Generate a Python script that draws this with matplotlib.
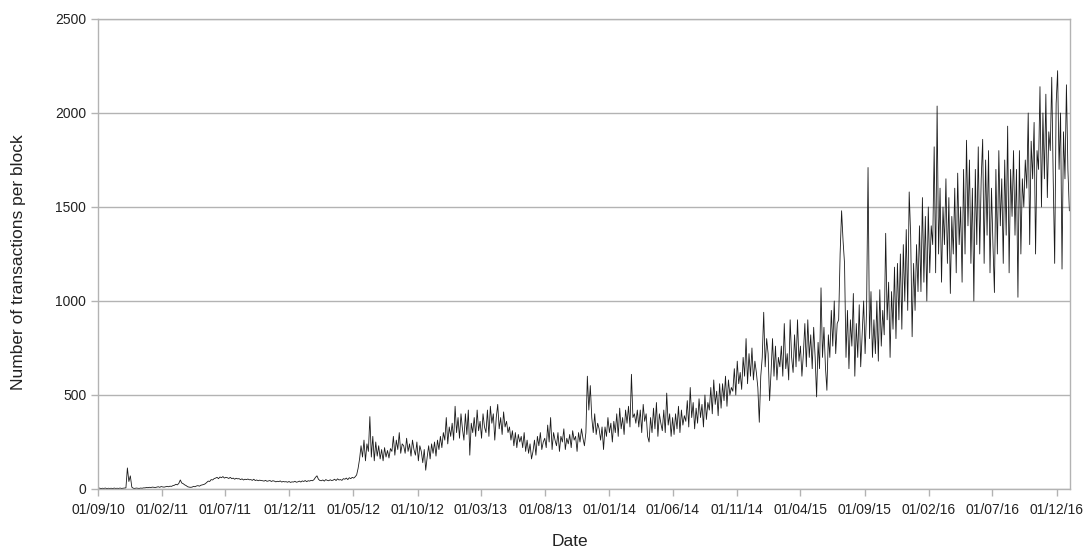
import matplotlib
matplotlib.use('Agg')
import matplotlib.pyplot as plt
import matplotlib.dates as mdates
import numpy as np
import pandas as pd

# transactions per block, one value every 3.5 days from 01/09/2010
# (each row = 28 days)
rows = [
    [3, 5, 2, 4, 3, 5, 2, 4],
    [3, 4, 2, 5, 3, 4, 3, 5],
    [3, 4, 5, 6, 112, 40, 70, 10],
    [4, 3, 5, 4, 3, 5, 4, 6],
    [6, 8, 7, 9, 8, 10, 9, 8],
    [10, 12, 9, 13, 11, 10, 12, 14],
    [12, 15, 14, 18, 20, 25, 22, 30],
    [48, 32, 28, 22, 18, 12, 10, 9],
    [10, 14, 12, 16, 18, 15, 20, 22],
    [24, 28, 35, 42, 40, 50, 48, 55],
    [58, 62, 55, 64, 60, 66, 58, 62],
    [60, 56, 62, 55, 58, 52, 57, 54],
    [55, 50, 54, 48, 52, 50, 53, 49],
    [50, 46, 52, 45, 48, 44, 47, 45],
    [44, 42, 46, 41, 43, 45, 40, 44],
    [42, 38, 41, 39, 43, 37, 40, 38],
    [39, 36, 40, 35, 38, 37, 41, 36],
    [38, 42, 37, 43, 40, 45, 39, 44],
    [42, 46, 44, 50, 62, 70, 52, 45],
    [44, 48, 42, 50, 46, 44, 49, 45],
    [47, 52, 45, 54, 48, 50, 46, 55],
    [52, 58, 50, 60, 55, 62, 58, 65],
    [75, 110, 160, 230, 170, 260, 150, 240],
    [200, 385, 170, 280, 150, 250, 175, 230],
    [160, 210, 150, 220, 170, 205, 165, 215],
    [200, 280, 180, 260, 210, 300, 190, 240],
    [230, 190, 270, 200, 240, 175, 260, 210],
    [180, 250, 150, 230, 200, 140, 210, 100],
    [170, 230, 160, 240, 190, 250, 175, 260],
    [210, 280, 220, 300, 260, 380, 240, 330],
    [280, 350, 260, 440, 300, 380, 270, 400],
    [320, 260, 400, 290, 420, 180, 350, 300],
    [380, 280, 420, 310, 360, 270, 400, 330],
    [300, 420, 280, 440, 350, 400, 260, 380],
    [450, 320, 380, 290, 410, 330, 360, 300],
    [330, 260, 310, 230, 300, 220, 290, 250],
    [280, 220, 300, 200, 260, 190, 240, 160],
    [200, 260, 180, 280, 230, 300, 210, 250],
    [270, 220, 340, 250, 380, 210, 300, 260],
    [230, 300, 200, 280, 250, 320, 210, 270],
    [240, 290, 220, 310, 260, 280, 200, 300],
    [250, 320, 270, 230, 300, 600, 420, 550],
    [380, 300, 400, 290, 350, 320, 260, 330],
    [210, 330, 280, 380, 300, 350, 250, 360],
    [300, 400, 280, 430, 320, 380, 290, 420],
    [350, 440, 330, 610, 380, 400, 350, 420],
    [330, 420, 300, 450, 360, 400, 280, 250],
    [380, 300, 430, 320, 460, 280, 400, 350],
    [310, 420, 300, 510, 340, 400, 280, 380],
    [290, 400, 320, 440, 300, 420, 340, 390],
    [360, 470, 330, 540, 380, 460, 320, 430],
    [350, 480, 380, 450, 330, 500, 370, 460],
    [420, 540, 400, 580, 450, 520, 390, 560],
    [430, 560, 470, 600, 440, 580, 500, 540],
    [520, 640, 500, 680, 560, 620, 530, 700],
    [600, 800, 560, 720, 600, 750, 580, 680],
    [620, 540, 355, 600, 700, 940, 650, 800],
    [720, 470, 620, 800, 600, 760, 580, 700],
    [650, 760, 600, 880, 640, 720, 580, 900],
    [700, 620, 820, 650, 900, 680, 760, 600],
    [720, 880, 650, 900, 700, 820, 640, 860],
    [700, 490, 780, 640, 1070, 700, 860, 650],
    [525, 820, 700, 950, 760, 1000, 720, 880],
    [900, 1250, 1480, 1320, 1200, 700, 950, 640],
    [900, 760, 1040, 600, 880, 700, 980, 650],
    [820, 1000, 720, 950, 1710, 800, 1050, 700],
    [900, 720, 1000, 680, 1060, 760, 950, 820],
    [1360, 900, 1100, 700, 1050, 850, 1180, 800],
    [1200, 900, 1250, 850, 1300, 1000, 1380, 950],
    [1580, 1350, 810, 1200, 950, 1300, 1050, 1400],
    [1050, 1550, 1100, 1450, 1000, 1500, 1150, 1400],
    [1300, 1820, 1150, 2037, 1250, 1600, 1100, 1500],
    [1300, 1650, 1200, 1550, 1040, 1450, 1250, 1600],
    [1150, 1680, 1300, 1500, 1100, 1700, 1250, 1855],
    [1400, 1750, 1200, 1600, 1000, 1700, 1300, 1820],
    [1250, 1650, 1860, 1200, 1750, 1350, 1800, 1150],
    [1600, 1300, 1045, 1700, 1250, 1800, 1400, 1650],
    [1200, 1750, 1350, 1930, 1150, 1700, 1450, 1800],
    [1350, 1700, 1020, 1800, 1250, 1650, 1500, 1750],
    [1600, 2000, 1300, 1850, 1650, 1950, 1250, 1800],
    [1700, 2140, 1500, 2000, 1650, 2100, 1550, 1900],
    [1800, 2190, 1650, 1200, 2050, 2225, 1700, 2000],
    [1170, 1900, 1650, 2150, 1700, 1480],
]
values = np.array([v for r in rows for v in r], dtype=float)
dates = pd.Timestamp('2010-09-01') + pd.to_timedelta(np.arange(len(values)) * 3.5, unit='D')

tick_dates = pd.to_datetime(['2010-09-01', '2011-02-01', '2011-07-01', '2011-12-01',
                             '2012-05-01', '2012-10-01', '2013-03-01', '2013-08-01',
                             '2014-01-01', '2014-06-01', '2014-11-01', '2015-04-01',
                             '2015-09-01', '2016-02-01', '2016-07-01', '2016-12-01'])
y_ticks = [0, 500, 1000, 1500, 2000, 2500]

plt.rcParams['font.family'] = ['Liberation Sans', 'DejaVu Sans']
grey = '#b3b3b3'
txt = '#222222'

fig = plt.figure(figsize=(10.86, 5.52), dpi=100)
ax = fig.add_axes([98 / 1086, 1 - 489 / 552, 972 / 1086, 470 / 552])
ax.plot(dates, values, color='#1a1a1a', lw=0.6)

ax.set_xlim(pd.Timestamp('2010-09-01'), pd.Timestamp('2017-01-02'))
ax.set_ylim(0, 2500)
ax.set_yticks(y_ticks)
ax.set_xticks(tick_dates)
ax.xaxis.set_major_formatter(mdates.DateFormatter('%d/%m/%y'))
ax.yaxis.grid(True, color=grey, lw=1)
ax.set_axisbelow(True)
for s in ax.spines.values():
    s.set_color(grey)
    s.set_linewidth(1)
ax.tick_params(axis='both', colors=grey, labelcolor=txt, labelsize=10, length=5, width=1)
ax.tick_params(axis='x', pad=5)
ax.tick_params(axis='y', pad=3.5)
ax.set_xlabel('Date', fontsize=12.5, color=txt)
ax.set_ylabel('Number of transactions per block', fontsize=12.5, color=txt)
ax.xaxis.set_label_coords(0.4856, -0.096)
ax.yaxis.set_label_coords(-0.074, 0.483)

fig.savefig('out.png', dpi=100)
